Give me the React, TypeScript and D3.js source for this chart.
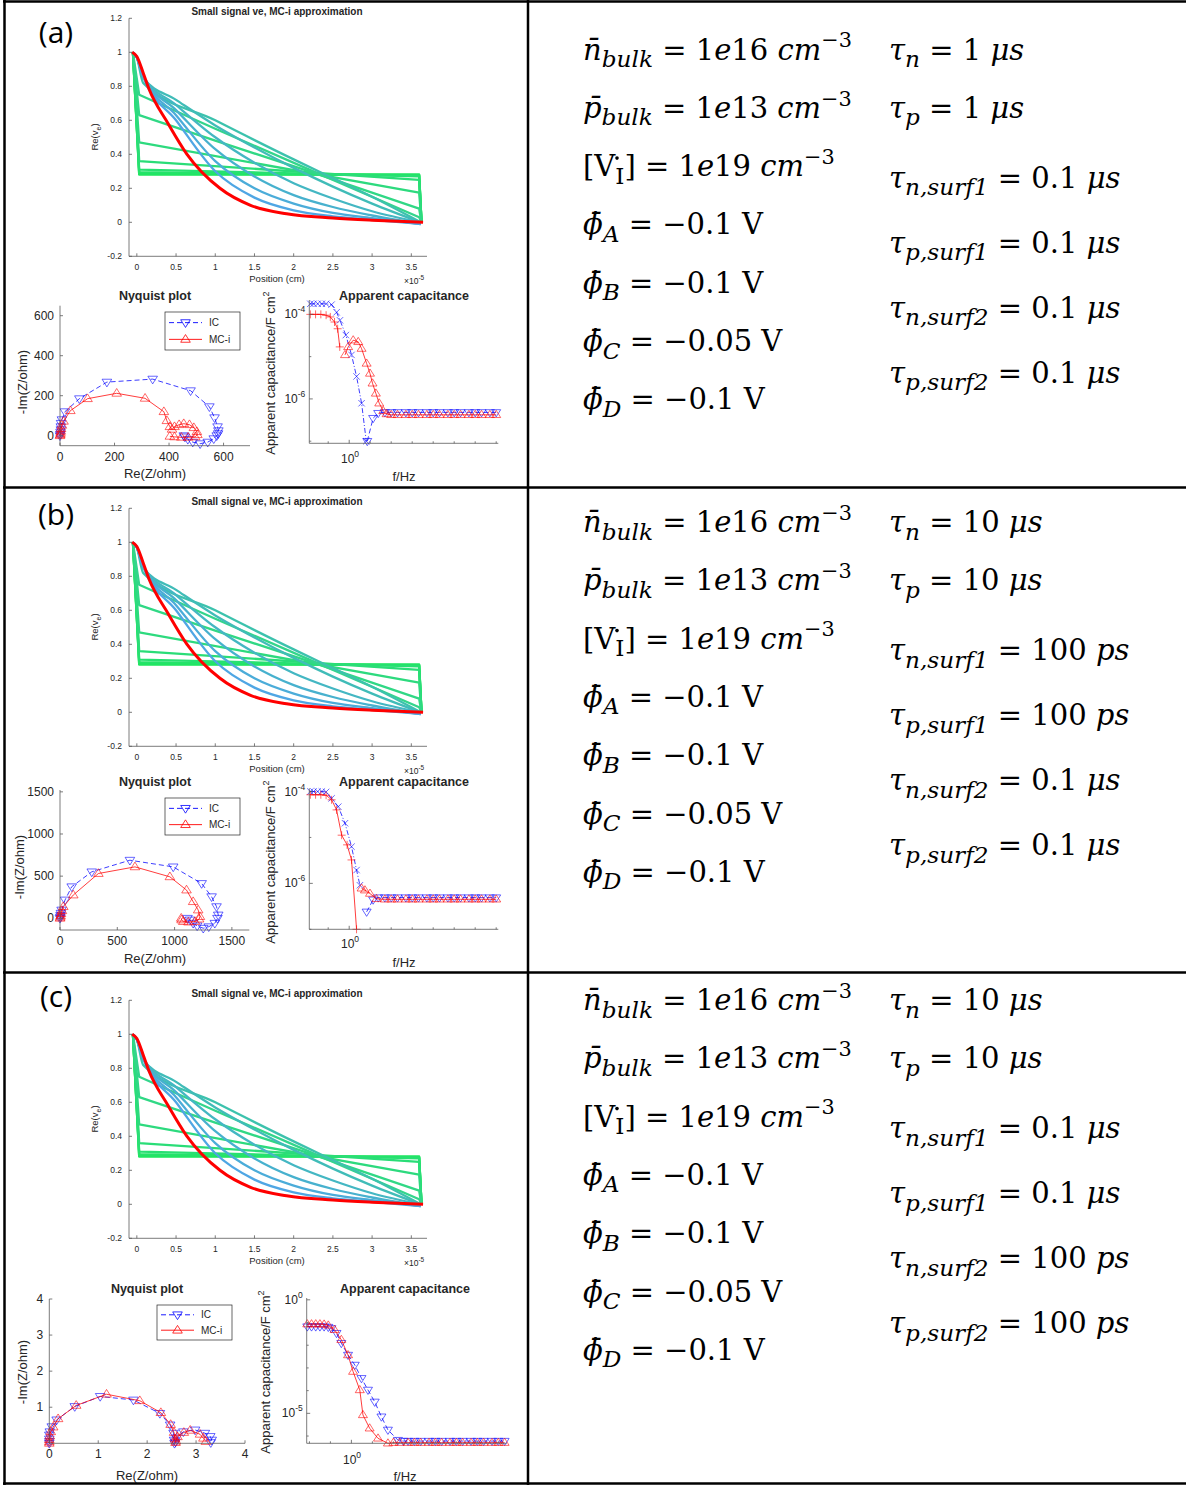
import React from 'react';
import * as d3 from 'd3';

type Pt = [number, number];

// ---------------- Profile chart data (Re(ve) vs Position, x in 1e-5 cm) ----------------
const profileXTicks = [0, 0.5, 1, 1.5, 2, 2.5, 3, 3.5];
const profileYTicks = [-0.2, 0, 0.2, 0.4, 0.6, 0.8, 1, 1.2];

const profileStepCurves: Pt[][] = [
  [[-0.05, 1], [0.03, 0.28], [3.6, 0.28], [3.63, 0]],
  [[-0.05, 1], [0.03, 0.285], [3.6, 0.28], [3.63, 0]],
  [[-0.05, 1], [0.03, 0.295], [3.6, 0.275], [3.63, 0]],
  [[-0.05, 1], [0.03, 0.31], [3.6, 0.27], [3.63, 0]],
  [[-0.05, 1], [0.03, 0.36], [3.6, 0.25], [3.63, 0]],
  [[-0.05, 1], [0.03, 0.47], [3.6, 0.175], [3.63, 0]],
  [[-0.05, 1], [0.03, 0.63], [1, 0.48], [2.2, 0.3], [3.6, 0.08], [3.63, 0]],
  [[-0.05, 1], [0.03, 0.75], [1, 0.55], [2.2, 0.31], [3.6, 0.03], [3.63, 0]],
];

const profileSmoothCurves: Pt[][] = [
  [[-0.05, 1], [0, 0.97], [0.08, 0.82], [1, 0.6], [2, 0.37], [2.5, 0.26], [3, 0.15], [3.62, 0]],
  [[-0.05, 1], [0, 0.97], [0.08, 0.85], [0.5, 0.72], [1, 0.57], [1.5, 0.44], [2, 0.32], [2.5, 0.21], [3, 0.11], [3.62, 0]],
  [[-0.05, 1], [0, 0.97], [0.08, 0.86], [0.5, 0.69], [1, 0.5], [1.5, 0.35], [2, 0.23], [2.5, 0.14], [3, 0.065], [3.62, 0]],
  [[-0.05, 1], [0, 0.97], [0.08, 0.86], [0.5, 0.66], [1, 0.43], [1.5, 0.27], [2, 0.16], [2.5, 0.09], [3, 0.04], [3.62, -0.01]],
  [[-0.05, 1], [0, 0.97], [0.08, 0.86], [0.5, 0.63], [1, 0.36], [1.5, 0.2], [2, 0.11], [2.5, 0.055], [3, 0.025], [3.62, -0.01]],
  [[-0.05, 1], [0, 0.97], [0.08, 0.86], [0.5, 0.6], [1, 0.3], [1.5, 0.145], [2, 0.07], [2.5, 0.035], [3, 0.015], [3.62, -0.01]],
];

const profileRed: Pt[] = [
  [-0.06, 1], [0, 0.975], [0.08, 0.88], [0.15, 0.79], [0.4, 0.58], [0.64, 0.4], [1.06, 0.2], [1.45, 0.1],
  [1.91, 0.05], [2.5, 0.025], [3, 0.012], [3.65, 0],
];

// ---------------- Nyquist data [Re, -Im] ----------------
const nyqA_IC: Pt[] = [
  [0, 0], [1, 8], [2, 18], [3, 30], [3, 45], [4, 62], [7, 80], [18, 120], [71, 185], [172, 268], [340, 283],
  [479, 225], [548, 145], [567, 90], [578, 45], [581, 25], [580, 10], [575, 0], [564, -15], [542, -32],
  [514, -40], [487, -32], [469, -18], [458, -6], [454, 0],
];
const nyqA_MC: Pt[] = [
  [0, 0], [1, 5], [2, 12], [3, 22], [4, 35], [7, 52], [13, 72], [38, 125], [101, 185], [208, 212], [312, 187],
  [381, 120], [392, 75], [403, 45], [411, 32], [420, 45], [437, 55], [454, 60], [475, 55], [491, 40], [502, 20],
  [504, 5], [496, -6], [470, -8], [445, -8], [420, -6], [403, -3],
];
const nyqB_IC: Pt[] = [
  [0, 0], [3, 15], [5, 35], [8, 60], [14, 98], [44, 217], [102, 374], [277, 551], [610, 689], [988, 610],
  [1236, 413], [1323, 256], [1366, 138], [1381, 39], [1374, 0], [1351, -59], [1298, -100], [1250, -118],
  [1197, -90], [1162, -59], [1134, -20], [1113, 0],
];
const nyqB_MC: Pt[] = [
  [0, 0], [3, 12], [5, 30], [8, 55], [17, 90], [29, 138], [116, 276], [335, 531], [654, 610], [959, 492],
  [1104, 335], [1162, 197], [1206, 98], [1221, 20], [1214, -10], [1178, -39], [1121, -45], [1076, -39],
  [1061, -20], [1058, 0],
];
const nyqC_IC: Pt[] = [
  [0, 0], [0, 0.05], [0, 0.12], [0, 0.23], [0.01, 0.32], [0.05, 0.46], [0.15, 0.65], [0.52, 1.02], [1.04, 1.3],
  [1.72, 1.2], [2.26, 0.83], [2.47, 0.51], [2.54, 0.28], [2.55, 0.09], [2.56, 0], [2.58, 0.04], [2.6, 0.15],
  [2.74, 0.32], [2.98, 0.37], [3.18, 0.28], [3.29, 0.19], [3.32, 0.09], [3.3, 0.02],
];
const nyqC_MC: Pt[] = [
  [0, 0], [0, 0.04], [0, 0.1], [0.01, 0.2], [0.03, 0.32], [0.08, 0.45], [0.18, 0.68], [0.55, 1.05], [1.17, 1.36],
  [1.85, 1.18], [2.28, 0.85], [2.48, 0.52], [2.55, 0.3], [2.57, 0.12], [2.58, 0.02], [2.59, 0.06], [2.62, 0.18],
  [2.75, 0.3], [2.88, 0.36], [3.08, 0.25], [3.15, 0.14], [3.2, 0.05],
];

// ---------------- Apparent capacitance data [f (Hz), C (F cm^-2)] ----------------
const capA_ICpos: Pt[] = [
  [0.0141, 1.78e-4], [0.02, 1.78e-4], [0.0316, 1.78e-4], [0.05, 1.78e-4], [0.0794, 1.78e-4], [0.145, 1.7e-4],
  [0.251, 1.12e-4], [0.363, 7.24e-5], [0.692, 3.24e-5], [1.29, 1.1e-5], [2.24, 3.4e-6], [3.89, 7.9e-7], [6.5, 1.0e-7],
];
const capA_ICneg: Pt[] = [
  [7.24, 1.0e-7], [13.8, 3.5e-7], [24, 4.6e-7], [50, 4.8e-7], [1e2, 4.8e-7], [2e2, 4.8e-7], [5e2, 4.8e-7],
  [1e3, 4.8e-7], [2e3, 4.8e-7], [5e3, 4.8e-7], [1e4, 4.8e-7], [2e4, 4.8e-7], [5e4, 4.8e-7], [1e5, 4.8e-7],
  [2e5, 4.8e-7], [5e5, 4.8e-7], [1e6, 4.8e-7], [2e6, 4.8e-7], [5e6, 4.8e-7], [1e7, 4.8e-7],
];
const capA_MCpos: Pt[] = [
  [0.0141, 1.0e-4], [0.0251, 1.0e-4], [0.0447, 1.0e-4], [0.0794, 9.55e-5], [0.126, 8.7e-5], [0.2, 6.6e-5],
  [0.282, 4.57e-5], [0.355, 1.7e-5],
];
const capA_MCneg: Pt[] = [
  [0.631, 1.1e-5], [0.891, 1.7e-5], [1.55, 2.45e-5], [2.69, 2.24e-5], [3.89, 1.55e-5], [6.76, 6.9e-6],
  [9.77, 4.0e-6], [12.9, 2.34e-6], [18.6, 1.35e-6], [26.9, 7.9e-7], [41.7, 5.2e-7], [60.3, 4.4e-7],
  [1e2, 4.2e-7], [2e2, 4.2e-7], [5e2, 4.2e-7], [1e3, 4.2e-7], [2e3, 4.2e-7], [5e3, 4.2e-7], [1e4, 4.2e-7],
  [2e4, 4.2e-7], [5e4, 4.2e-7], [1e5, 4.2e-7], [2e5, 4.2e-7], [5e5, 4.2e-7], [1e6, 4.2e-7], [2e6, 4.2e-7],
  [5e6, 4.2e-7], [1e7, 4.2e-7],
];

const capB_ICpos: Pt[] = [
  [0.0141, 1.0e-4], [0.02, 1.0e-4], [0.0316, 1.0e-4], [0.05, 1.0e-4], [0.0794, 9.8e-5], [0.145, 7.1e-5],
  [0.302, 4.68e-5], [0.631, 2.04e-5], [1.29, 6.3e-6], [2.24, 1.95e-6], [3.24, 9.1e-7],
];
const capB_ICneg: Pt[] = [
  [6.76, 2.4e-7], [13.8, 4.4e-7], [24, 4.9e-7], [50, 4.9e-7], [1e2, 4.9e-7], [2e2, 4.9e-7], [5e2, 4.9e-7],
  [1e3, 4.9e-7], [2e3, 4.9e-7], [5e3, 4.9e-7], [1e4, 4.9e-7], [2e4, 4.9e-7], [5e4, 4.9e-7], [1e5, 4.9e-7],
  [2e5, 4.9e-7], [5e5, 4.9e-7], [1e6, 4.9e-7], [2e6, 4.9e-7], [5e6, 4.9e-7], [1e7, 4.9e-7],
];
const capB_MCpos: Pt[] = [
  [0.0141, 8.5e-5], [0.0251, 8.5e-5], [0.0447, 8.5e-5], [0.0794, 8.3e-5], [0.145, 6.6e-5], [0.251, 3.98e-5],
  [0.437, 1.12e-5], [0.794, 6.9e-6], [1.29, 3.24e-6], [2.24, 1.0e-7],
];
const capB_MCneg: Pt[] = [
  [3.89, 7.8e-7], [5.62, 7.1e-7], [9.77, 6.0e-7], [20, 4.6e-7], [50, 4.5e-7], [1e2, 4.5e-7], [2e2, 4.5e-7],
  [5e2, 4.5e-7], [1e3, 4.5e-7], [2e3, 4.5e-7], [5e3, 4.5e-7], [1e4, 4.5e-7], [2e4, 4.5e-7], [5e4, 4.5e-7],
  [1e5, 4.5e-7], [2e5, 4.5e-7], [5e5, 4.5e-7], [1e6, 4.5e-7], [2e6, 4.5e-7], [5e6, 4.5e-7], [1e7, 4.5e-7],
];

const capC_IC: Pt[] = [
  [0.0079, 0.066], [0.0126, 0.066], [0.02, 0.066], [0.0316, 0.066], [0.05, 0.066], [0.0794, 0.063],
  [0.112, 0.055], [0.195, 0.034], [0.331, 0.0123], [0.692, 3.7e-3], [1.45, 1.35e-3], [3.02, 3.5e-4],
  [6.17, 1.07e-4], [12.9, 3.2e-5], [26.9, 7.1e-6], [55, 1.86e-6], [166, 6.6e-7], [3e2, 6.0e-7], [5e2, 6.0e-7],
  [1e3, 6.0e-7], [2e3, 6.0e-7], [5e3, 6.0e-7], [1e4, 6.0e-7], [2e4, 6.0e-7], [5e4, 6.0e-7], [1e5, 6.0e-7],
  [2e5, 6.0e-7], [5e5, 6.0e-7], [1e6, 6.0e-7], [2e6, 6.0e-7], [5e6, 6.0e-7], [1e7, 6.0e-7], [2e7, 6.0e-7],
];
const capC_MC: Pt[] = [
  [0.0079, 0.085], [0.0126, 0.085], [0.02, 0.085], [0.0316, 0.085], [0.05, 0.083], [0.0794, 0.075],
  [0.158, 0.048], [0.331, 0.0174], [0.692, 3.7e-3], [1.2, 6.9e-4], [2.51, 1.07e-4], [3.55, 8.5e-6],
  [7.41, 2.2e-6], [18.6, 7.9e-7], [55, 4.8e-7], [1e2, 5.1e-7], [2e2, 5.1e-7], [5e2, 5.1e-7], [1e3, 5.1e-7],
  [2e3, 5.1e-7], [5e3, 5.1e-7], [1e4, 5.1e-7], [2e4, 5.1e-7], [5e4, 5.1e-7], [1e5, 5.1e-7], [2e5, 5.1e-7],
  [5e5, 5.1e-7], [1e6, 5.1e-7], [2e6, 5.1e-7], [5e6, 5.1e-7], [1e7, 5.1e-7], [2e7, 5.1e-7],
];

// ---------------- Parameter text ----------------
type Seg = { t: string; i?: boolean; s?: 'sub' | 'sup' };
const leftParams: Seg[][] = [
  [{ t: 'n\u0304', i: true }, { t: 'bulk', i: true, s: 'sub' }, { t: ' = 1' }, { t: 'e', i: true }, { t: '16 ' }, { t: 'cm', i: true }, { t: '\u22123', s: 'sup' }],
  [{ t: 'p\u0304', i: true }, { t: 'bulk', i: true, s: 'sub' }, { t: ' = 1' }, { t: 'e', i: true }, { t: '13 ' }, { t: 'cm', i: true }, { t: '\u22123', s: 'sup' }],
  [{ t: '[V' }, { t: 'I', s: 'sub' }, { t: '] = 1' }, { t: 'e', i: true }, { t: '19 ' }, { t: 'cm', i: true }, { t: '\u22123', s: 'sup' }],
  [{ t: '\u03D5\u0304', i: true }, { t: 'A', i: true, s: 'sub' }, { t: ' = \u22120.1 V' }],
  [{ t: '\u03D5\u0304', i: true }, { t: 'B', i: true, s: 'sub' }, { t: ' = \u22120.1 V' }],
  [{ t: '\u03D5\u0304', i: true }, { t: 'C', i: true, s: 'sub' }, { t: ' = \u22120.05 V' }],
  [{ t: '\u03D5\u0304', i: true }, { t: 'D', i: true, s: 'sub' }, { t: ' = \u22120.1 V' }],
];
const tauNames = ['n', 'p', 'n,surf1', 'p,surf1', 'n,surf2', 'p,surf2'];
const tauValuesA = [['1', 'μs'], ['1', 'μs'], ['0.1', 'μs'], ['0.1', 'μs'], ['0.1', 'μs'], ['0.1', 'μs']];
const tauValuesB = [['10', 'μs'], ['10', 'μs'], ['100', 'ps'], ['100', 'ps'], ['0.1', 'μs'], ['0.1', 'μs']];
const tauValuesC = [['10', 'μs'], ['10', 'μs'], ['0.1', 'μs'], ['0.1', 'μs'], ['100', 'ps'], ['100', 'ps']];
const rowLabels = ['(a)', '(b)', '(c)'];

// ---------------- styling ----------------
const FONT = "'Liberation Sans', Arial, Helvetica, sans-serif";
const MATH = "'DejaVu Serif', 'Liberation Serif', serif";
const AXC = '#5a5a5a';
const TXC = '#262626';

function tri(cx: number, cy: number, s: number, down: boolean) {
  if (down) return `M${cx - s},${cy - s * 0.6}L${cx + s},${cy - s * 0.6}L${cx},${cy + s}Z`;
  return `M${cx - s},${cy + s * 0.6}L${cx + s},${cy + s * 0.6}L${cx},${cy - s}Z`;
}
function plus(cx: number, cy: number, s: number) {
  return `M${cx - s},${cy}H${cx + s}M${cx},${cy - s}V${cy + s}`;
}
function cross(cx: number, cy: number, s: number) {
  return `M${cx - s},${cy - s}L${cx + s},${cy + s}M${cx - s},${cy + s}L${cx + s},${cy - s}`;
}

function ProfilePanel({ oy }: { oy: number }) {
  const x = d3.scaleLinear().domain([-0.1, 3.7]).range([129, 427]);
  const y = d3.scaleLinear().domain([-0.2, 1.2]).range([oy + 256.3, oy + 18.3]);
  const lin = d3.line<Pt>().x(d => x(d[0])).y(d => y(d[1]));
  const smooth = d3.line<Pt>().x(d => x(d[0])).y(d => y(d[1])).curve(d3.curveMonotoneX);
  const greens = d3.interpolateRgb('#1ee85c', '#33d58c');
  const blues = d3.interpolateRgb('#3cc2ad', '#4fa6e4');
  const ns = profileStepCurves.length, nm = profileSmoothCurves.length;
  const x0 = 129, x1 = 427, yb = oy + 256.3, yt = oy + 18.3;
  return (
    <g fontFamily={FONT}>
      <text x={277} y={oy + 15} textAnchor="middle" fontSize={10} fontWeight="bold" fill={TXC}>Small signal ve, MC-i approximation</text>
      {profileStepCurves.map((c, i) => (
        <path key={'st' + i} d={lin(c) || ''} stroke={greens(i / (ns - 1))} strokeWidth={2.3} fill="none" strokeLinejoin="round" />
      ))}
      {profileSmoothCurves.map((c, i) => (
        <path key={'sm' + i} d={smooth(c) || ''} stroke={blues(i / (nm - 1))} strokeWidth={2.3} fill="none" />
      ))}
      <path d={smooth(profileRed) || ''} stroke="#ff0000" strokeWidth={3} fill="none" />
      <line x1={x0} y1={yb} x2={x1} y2={yb} stroke={AXC} strokeWidth={0.8} />
      <line x1={x0} y1={yb} x2={x0} y2={yt} stroke={AXC} strokeWidth={0.8} />
      {profileXTicks.map(t => (
        <g key={'xt' + t}>
          <line x1={x(t)} x2={x(t)} y1={yb} y2={yb - 3} stroke={AXC} strokeWidth={0.8} />
          <text x={x(t)} y={oy + 270} textAnchor="middle" fontSize={8.5} fill={TXC}>{t}</text>
        </g>
      ))}
      {profileYTicks.map(t => (
        <g key={'yt' + t}>
          <line x1={x0} x2={x0 + 3} y1={y(t)} y2={y(t)} stroke={AXC} strokeWidth={0.8} />
          <text x={122} y={y(t) + 3} textAnchor="end" fontSize={8.5} fill={TXC}>{t}</text>
        </g>
      ))}
      <text x={277} y={oy + 282} textAnchor="middle" fontSize={9.5} fill={TXC}>Position (cm)</text>
      <text x={404} y={oy + 284} fontSize={8.5} fill={TXC}>×10<tspan dy={-4} fontSize={6.5}>-5</tspan></text>
      <text transform={`translate(98,${oy + 137}) rotate(-90)`} textAnchor="middle" fontSize={9.5} fill={TXC}>
        Re(v<tspan dy={3} fontSize={7}>e</tspan><tspan dy={-3}>)</tspan>
      </text>
    </g>
  );
}

type NyqGeom = {
  x0: number; x1: number; y0: number; y1: number; xd: [number, number]; yd: [number, number];
  xt: number[]; yt: number[]; tx: number; ty: number; xlx: number; xly: number; ylx: number; yly: number;
  lg: [number, number, number, number];
};

function Nyquist({ g, ic, mc }: { g: NyqGeom; ic: Pt[]; mc: Pt[] }) {
  const x = d3.scaleLinear().domain(g.xd).range([g.x0, g.x1]);
  const y = d3.scaleLinear().domain(g.yd).range([g.y0, g.y1]);
  const line = d3.line<Pt>().x(d => x(d[0])).y(d => y(d[1]));
  const [lx, ly, lw, lh] = g.lg;
  const r1 = ly + lh * 0.28, r2 = ly + lh * 0.72;
  return (
    <g fontFamily={FONT}>
      <text x={g.tx} y={g.ty} textAnchor="middle" fontSize={12.5} fontWeight="bold" fill={TXC}>Nyquist plot</text>
      <path d={line(ic) || ''} stroke="#0000ff" strokeWidth={0.9} strokeDasharray="5,3" fill="none" opacity={0.85} />
      {ic.map((d, i) => <path key={'ic' + i} d={tri(x(d[0]), y(d[1]), 4.8, true)} stroke="#0000ff" strokeWidth={0.8} fill="none" opacity={0.75} />)}
      <path d={line(mc) || ''} stroke="#ff0000" strokeWidth={0.9} fill="none" opacity={0.85} />
      {mc.map((d, i) => <path key={'mc' + i} d={tri(x(d[0]), y(d[1]), 4.8, false)} stroke="#ff0000" strokeWidth={0.8} fill="none" opacity={0.75} />)}
      <line x1={g.x0} y1={g.y0} x2={g.x1} y2={g.y0} stroke={AXC} strokeWidth={0.8} />
      <line x1={g.x0} y1={g.y0} x2={g.x0} y2={g.y1} stroke={AXC} strokeWidth={0.8} />
      {g.xt.map(t => (
        <g key={'x' + t}>
          <line x1={x(t)} x2={x(t)} y1={g.y0} y2={g.y0 - 3} stroke={AXC} strokeWidth={0.8} />
          <text x={x(t)} y={g.y0 + 15} textAnchor="middle" fontSize={12} fill={TXC}>{t}</text>
        </g>
      ))}
      {g.yt.map(t => (
        <g key={'y' + t}>
          <line x1={g.x0} x2={g.x0 + 3} y1={y(t)} y2={y(t)} stroke={AXC} strokeWidth={0.8} />
          <text x={g.x0 - 6} y={y(t) + 4} textAnchor="end" fontSize={12} fill={TXC}>{t}</text>
        </g>
      ))}
      <text x={g.xlx} y={g.xly} textAnchor="middle" fontSize={13} fill={TXC}>Re(Z/ohm)</text>
      <text transform={`translate(${g.ylx},${g.yly}) rotate(-90)`} textAnchor="middle" fontSize={13} fill={TXC}>-Im(Z/ohm)</text>
      <rect x={lx} y={ly} width={lw} height={lh} fill="#fff" stroke={TXC} strokeWidth={0.7} />
      <line x1={lx + 4} x2={lx + 37} y1={r1} y2={r1} stroke="#0000ff" strokeWidth={0.9} strokeDasharray="5,3" />
      <path d={tri(lx + 20.5, r1, 4.8, true)} stroke="#0000ff" strokeWidth={0.8} fill="none" />
      <text x={lx + 44} y={r1 + 3.5} fontSize={10} fill={TXC}>IC</text>
      <line x1={lx + 4} x2={lx + 37} y1={r2} y2={r2} stroke="#ff0000" strokeWidth={0.9} />
      <path d={tri(lx + 20.5, r2, 4.8, false)} stroke="#ff0000" strokeWidth={0.8} fill="none" />
      <text x={lx + 44} y={r2 + 3.5} fontSize={10} fill={TXC}>MC-i</text>
    </g>
  );
}

type CapGeom = {
  x0: number; x1: number; y0: number; y1: number; xd: [number, number]; yd: [number, number];
  ylab: number[]; tx: number; ty: number; xlx: number; xly: number; ylx: number; yly: number; zx: number; zy: number;
};
type CapSeries = { d: Pt[]; color: string; mk: 'plus' | 'cross' | 'up' | 'down'; dash?: string };

function Capacitance({ g, series }: { g: CapGeom; series: CapSeries[] }) {
  const x = d3.scaleLog().domain(g.xd).range([g.x0, g.x1]);
  const y = d3.scaleLog().domain(g.yd).range([g.y0, g.y1]).clamp(true);
  const line = d3.line<Pt>().x(d => x(d[0])).y(d => y(d[1]));
  const xdec = d3.range(Math.ceil(Math.log10(g.xd[0])), Math.floor(Math.log10(g.xd[1])) + 1);
  const ydec = d3.range(Math.ceil(Math.log10(g.yd[0]) - 1e-9), Math.floor(Math.log10(g.yd[1]) + 1e-9) + 1);
  const mark = (m: string, cx: number, cy: number) =>
    m === 'plus' ? plus(cx, cy, 4) : m === 'cross' ? cross(cx, cy, 3.2) : tri(cx, cy, 4.5, m === 'down');
  return (
    <g fontFamily={FONT}>
      <text x={g.tx} y={g.ty} textAnchor="middle" fontSize={12.5} fontWeight="bold" fill={TXC}>Apparent capacitance</text>
      {series.map((s, k) => (
        <g key={'s' + k}>
          <path d={line(s.d) || ''} stroke={s.color} strokeWidth={0.9} fill="none" strokeDasharray={s.dash} opacity={0.85} />
          {s.d.map((d, i) => (
            <path key={i} d={mark(s.mk, x(d[0]), y(d[1]))} stroke={s.color} strokeWidth={0.8} fill="none" opacity={0.75} />
          ))}
        </g>
      ))}
      <line x1={g.x0} y1={g.y0} x2={g.x1} y2={g.y0} stroke={AXC} strokeWidth={0.8} />
      <line x1={g.x0} y1={g.y0} x2={g.x0} y2={g.y1} stroke={AXC} strokeWidth={0.8} />
      {xdec.map(e => (
        <line key={'xd' + e} x1={x(Math.pow(10, e))} x2={x(Math.pow(10, e))} y1={g.y0} y2={g.y0 - (e === 0 ? 3.5 : 2)} stroke={AXC} strokeWidth={0.8} />
      ))}
      {ydec.map(e => (
        <line key={'yd' + e} x1={g.x0} x2={g.x0 + (g.ylab.includes(e) ? 3.5 : 2)} y1={y(Math.pow(10, e))} y2={y(Math.pow(10, e))} stroke={AXC} strokeWidth={0.8} />
      ))}
      {g.ylab.map(e => (
        <text key={'yl' + e} x={g.x0 - 4} y={y(Math.pow(10, e)) + 4} textAnchor="end" fontSize={12} fill={TXC}>
          10<tspan dy={-6} fontSize={8.5}>{e}</tspan>
        </text>
      ))}
      <text x={g.zx} y={g.zy} textAnchor="middle" fontSize={12} fill={TXC}>
        10<tspan dy={-6} fontSize={8.5}>0</tspan>
      </text>
      <text x={g.xlx} y={g.xly} textAnchor="middle" fontSize={13} fill={TXC}>f/Hz</text>
      <text transform={`translate(${g.ylx},${g.yly}) rotate(-90)`} textAnchor="middle" fontSize={13} fill={TXC}>
        Apparent capacitance/F cm<tspan dy={-6} fontSize={9}>2</tspan>
      </text>
    </g>
  );
}

function MathLine({ x, y, segs, fs }: { x: number; y: number; segs: Seg[]; fs: number }) {
  let cur = 0;
  return (
    <text x={x} y={y} fontSize={fs} fontFamily={MATH} fill="#000" style={{ whiteSpace: 'pre' }}>
      {segs.map((sg, k) => {
        const target = sg.s === 'sub' ? fs * 0.26 : sg.s === 'sup' ? -fs * 0.42 : 0;
        const dy = target - cur;
        cur = target;
        return (
          <tspan key={k} dy={dy} fontStyle={sg.i ? 'italic' : 'normal'}
            fontSize={sg.s === 'sub' ? fs * 0.8 : sg.s === 'sup' ? fs * 0.72 : fs}>{sg.t}</tspan>
        );
      })}
    </text>
  );
}

function ParamBlock({ y1, vals }: { y1: number; vals: string[][] }) {
  const fs = 29;
  const rightOff = [0, 58.3, 128, 193, 258, 323];
  return (
    <g>
      {leftParams.map((segs, k) => <MathLine key={'l' + k} x={583} y={y1 + k * 58.3} segs={segs} fs={fs} />)}
      <circle cx={617} cy={y1 + 2 * 58.3 - 18} r={1.8} fill="#000" />
      {tauNames.map((nm, k) => (
        <MathLine key={'r' + k} x={889} y={y1 + rightOff[k]} fs={fs}
          segs={[{ t: 'τ', i: true }, { t: nm, i: true, s: 'sub' }, { t: ` = ${vals[k][0]} ` }, { t: vals[k][1], i: true }]} />
      ))}
    </g>
  );
}

const nyqGeoms: NyqGeom[] = [
  { x0: 60, x1: 250, y0: 445.7, y1: 305.7, xd: [0, 697], yd: [-50, 650], xt: [0, 200, 400, 600], yt: [0, 200, 400, 600], tx: 155, ty: 300, xlx: 155, xly: 478, ylx: 27, yly: 382, lg: [165, 312, 75, 38] },
  { x0: 60, x1: 249.3, y0: 930, y1: 790, xd: [0, 1652], yd: [-139, 1522], xt: [0, 500, 1000, 1500], yt: [0, 500, 1000, 1500], tx: 155, ty: 786, xlx: 155, xly: 963, ylx: 24, yly: 867, lg: [165, 798, 75, 37] },
  { x0: 49.3, x1: 245, y0: 1443.3, y1: 1299, xd: [0, 4], yd: [0, 4], xt: [0, 1, 2, 3, 4], yt: [1, 2, 3, 4], tx: 147, ty: 1293, xlx: 147, xly: 1480, ylx: 27, yly: 1372, lg: [157, 1305, 75, 35] },
];

const capGeoms: CapGeom[] = [
  { x0: 309.3, x1: 498.3, y0: 443.3, y1: 300, xd: [Math.pow(10, -1.9), Math.pow(10, 7.1)], yd: [Math.pow(10, -7.05), Math.pow(10, -3.66)], ylab: [-4, -6], tx: 404, ty: 300, xlx: 404, xly: 481, ylx: 275, yly: 373, zx: 350, zy: 463 },
  { x0: 309.3, x1: 498.3, y0: 929.3, y1: 788.3, xd: [Math.pow(10, -1.9), Math.pow(10, 7.1)], yd: [Math.pow(10, -7.0), Math.pow(10, -3.93)], ylab: [-4, -6], tx: 404, ty: 786, xlx: 404, xly: 967, ylx: 275, yly: 862, zx: 350, zy: 948 },
  { x0: 306.7, x1: 506.7, y0: 1443.3, y1: 1298, xd: [Math.pow(10, -2.13), Math.pow(10, 7.4)], yd: [Math.pow(10, -6.32), Math.pow(10, 0.08)], ylab: [0, -5], tx: 405, ty: 1293, xlx: 405, xly: 1481, ylx: 270, yly: 1372, zx: 352, zy: 1464 },
];

const BLUE = '#0000ff', RED = '#ff0000';
const capSeries: CapSeries[][] = [
  [
    { d: capA_ICpos, color: BLUE, mk: 'cross', dash: '5,2,1,2' },
    { d: capA_ICneg, color: BLUE, mk: 'down', dash: '5,3' },
    { d: capA_MCpos, color: RED, mk: 'plus' },
    { d: capA_MCneg, color: RED, mk: 'up' },
  ],
  [
    { d: capB_ICpos, color: BLUE, mk: 'cross', dash: '5,2,1,2' },
    { d: capB_ICneg, color: BLUE, mk: 'down', dash: '5,3' },
    { d: capB_MCpos, color: RED, mk: 'plus' },
    { d: capB_MCneg, color: RED, mk: 'up' },
  ],
  [
    { d: capC_IC, color: BLUE, mk: 'down', dash: '5,3' },
    { d: capC_MC, color: RED, mk: 'up' },
  ],
];

const nyqData: [Pt[], Pt[]][] = [[nyqA_IC, nyqA_MC], [nyqB_IC, nyqB_MC], [nyqC_IC, nyqC_MC]];
const profileOffsets = [0, 490, 982];
const paramRowY = [59.5, 532, 1010];
const paramVals = [tauValuesA, tauValuesB, tauValuesC];
const labelY = [43, 525, 1007];

export default function App() {
  return (
    <svg width={1186} height={1485} viewBox="0 0 1186 1485"
      style={{ position: 'absolute', left: 0, top: 0, background: '#fff', display: 'block' }}>
      <rect x={0} y={0} width={1186} height={1485} fill="#fff" />
      {[0, 1, 2].map(r => (
        <g key={r}>
          <text x={56} y={labelY[r]} textAnchor="middle" fontSize={30} fontFamily="'Open Sans', Lato, sans-serif" fill="#000">{rowLabels[r]}</text>
          <ProfilePanel oy={profileOffsets[r]} />
          <Nyquist g={nyqGeoms[r]} ic={nyqData[r][0]} mc={nyqData[r][1]} />
          <Capacitance g={capGeoms[r]} series={capSeries[r]} />
          <ParamBlock y1={paramRowY[r]} vals={paramVals[r]} />
        </g>
      ))}
      <g stroke="#000" strokeWidth={2.5}>
        <line x1={3} x2={1186} y1={1.5} y2={1.5} />
        <line x1={4.5} x2={4.5} y1={0} y2={1485} />
        <line x1={528} x2={528} y1={0} y2={1485} />
        <line x1={3} x2={1186} y1={487.5} y2={487.5} />
        <line x1={3} x2={1186} y1={972.5} y2={972.5} />
        <line x1={3} x2={1186} y1={1483.5} y2={1483.5} />
      </g>
    </svg>
  );
}
